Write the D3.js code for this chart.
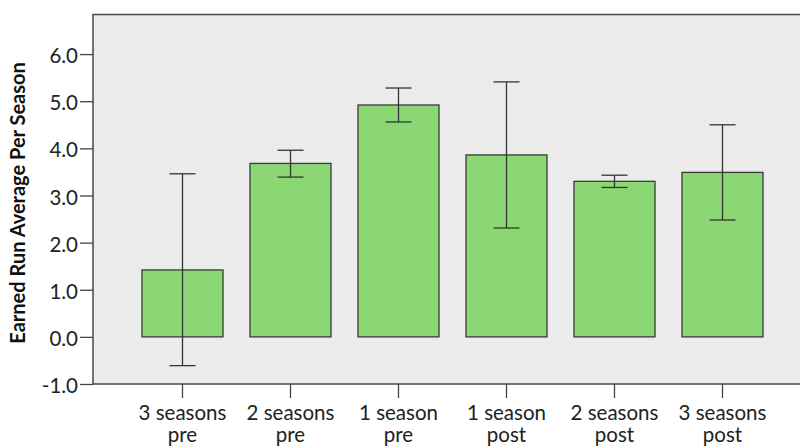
<!DOCTYPE html>
<html>
<head>
<meta charset="utf-8">
<script src="https://cdn.jsdelivr.net/npm/d3@7/dist/d3.min.js"></script>
<style>
  html, body { margin: 0; padding: 0; background: #ffffff; }
  svg { display: block; }
</style>
</head>
<body>
<svg id="chart" width="800" height="446"></svg>
<script>
// Group labels (two lines each)
const categories = [
  ["3 seasons", "pre"],
  ["2 seasons", "pre"],
  ["1 season", "pre"],
  ["1 season", "post"],
  ["2 seasons", "post"],
  ["3 seasons", "post"]
];
// Mean ERA per season and 95% CI bounds
const means = [1.42, 3.68, 4.92, 3.86, 3.30, 3.49];
const ciLow = [-0.61, 3.39, 4.56, 2.31, 3.17, 2.48];
const ciHigh = [3.46, 3.96, 5.28, 5.41, 3.43, 4.50];
const yTicks = [-1, 0, 1, 2, 3, 4, 5, 6];
const yTitle = "Earned Run Average Per Season";

const svg = d3.select("#chart");
const plot = { left: 93, right: 812, top: 14.5, bottom: 384 };
const font = "Lato, 'Open Sans', sans-serif";

const x = d3.scaleBand()
  .domain(d3.range(categories.length))
  .range([plot.left, plot.right])
  .paddingInner(0.25)
  .paddingOuter(0.4537);

const y = d3.scaleLinear()
  .domain([-1, 6.84])
  .range([plot.bottom, plot.top]);

// Plot background with frame
svg.append("rect")
  .attr("x", plot.left).attr("y", plot.top)
  .attr("width", plot.right - plot.left)
  .attr("height", plot.bottom - plot.top)
  .attr("fill", "#ebebeb")
  .attr("stroke", "#4a4a4a")
  .attr("stroke-width", 1.5);

// Bars
svg.append("g").selectAll("rect")
  .data(means)
  .join("rect")
  .attr("x", (d, i) => x(i))
  .attr("y", d => y(Math.max(0, d)))
  .attr("width", x.bandwidth())
  .attr("height", d => Math.abs(y(d) - y(0)))
  .attr("fill", "#8bd774")
  .attr("stroke", "#3a3a3a")
  .attr("stroke-width", 1.3);

// Error bars
const cap = 13;
const eb = svg.append("g")
  .attr("stroke", "#333")
  .attr("stroke-width", 1.3)
  .attr("fill", "none");
means.forEach((m, i) => {
  const cx = x(i) + x.bandwidth() / 2;
  eb.append("line")
    .attr("x1", cx).attr("x2", cx)
    .attr("y1", y(ciLow[i])).attr("y2", y(ciHigh[i]));
  [ciLow[i], ciHigh[i]].forEach(v => {
    eb.append("line")
      .attr("x1", cx - cap).attr("x2", cx + cap)
      .attr("y1", y(v)).attr("y2", y(v));
  });
});

// Y axis (plain hyphen for negatives)
const fmt = d3.format(".1f");
const yAxis = svg.append("g")
  .attr("transform", `translate(${plot.left},0)`)
  .call(d3.axisLeft(y).tickValues(yTicks)
    .tickFormat(d => fmt(d).replace("\u2212", "-"))
    .tickSize(13).tickPadding(2));
yAxis.select(".domain").remove();
yAxis.selectAll(".tick line").attr("stroke", "#444").attr("stroke-width", 1.3);
yAxis.selectAll(".tick text")
  .attr("fill", "#222")
  .attr("dy", "0.42em")
  .style("font-family", font)
  .style("font-size", "20.5px");

// X axis
const xAxis = svg.append("g")
  .attr("transform", `translate(0,${plot.bottom})`)
  .call(d3.axisBottom(x).tickSize(14).tickFormat(""));
xAxis.select(".domain").remove();
xAxis.selectAll(".tick line").attr("stroke", "#444").attr("stroke-width", 1.3);
xAxis.selectAll(".tick text").remove();
xAxis.selectAll(".tick").each(function (d) {
  const t = d3.select(this).append("text")
    .attr("fill", "#222")
    .attr("text-anchor", "middle")
    .style("font-family", font)
    .style("font-size", "20.5px");
  categories[d].forEach((line, k) => {
    t.append("tspan").attr("x", 0).attr("y", 36 + k * 22).text(line);
  });
});

// Y axis title
svg.append("text")
  .attr("transform", "translate(25,203) rotate(-90)")
  .attr("text-anchor", "middle")
  .attr("fill", "#111")
  .style("font-family", font)
  .style("font-weight", "bold")
  .style("font-size", "20px")
  .text(yTitle);
</script>
</body>
</html>
